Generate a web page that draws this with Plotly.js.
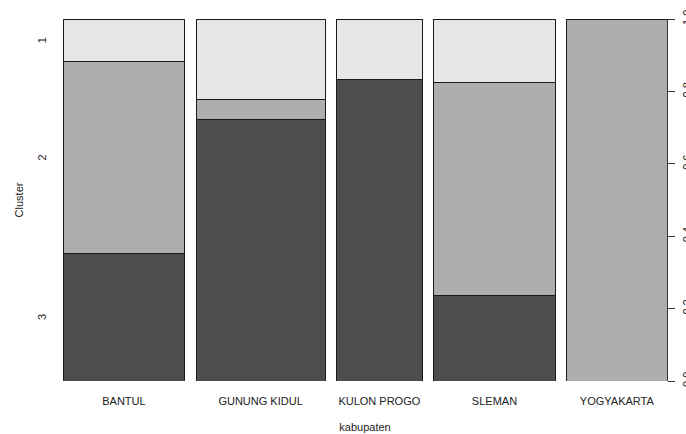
<!DOCTYPE html>
<html>
<head>
<meta charset="utf-8">
<script src="https://cdn.plot.ly/plotly-3.0.1.min.js"></script>
<style>html,body{margin:0;padding:0;background:#fff;}#chart{width:686px;height:434px;}</style>
</head>
<body>
<div id="chart"></div>
<script>
// Data: counts per kabupaten and cluster
var categories = ["BANTUL", "GUNUNG KIDUL", "KULON PROGO", "SLEMAN", "YOGYAKARTA"];
var cluster1 = [2, 4, 2, 3, 0];
var cluster2 = [9, 1, 0, 10, 14];
var cluster3 = [6, 13, 10, 4, 0];
var clusterLabels = ["1", "2", "3"];
var rightTicks = [0, 0.2, 0.4, 0.6, 0.8, 1.0];
var rightTickText = ["0.0", "0.2", "0.4", "0.6", "0.8", "1.0"];

var off = 0.02;
var totals = categories.map(function(c, i){ return cluster1[i] + cluster2[i] + cluster3[i]; });
var N = totals.reduce(function(a, b){ return a + b; }, 0);
var widths = totals.map(function(t){ return t / N; });
var centers = [];
var acc = 0;
widths.forEach(function(w, i){ centers.push(acc + w / 2); acc += w + off; });
var xmax = acc - off;

function prop(arr){ return arr.map(function(v, i){ return v / totals[i]; }); }

var colors = {"1": "#e6e6e6", "2": "#aeaeae", "3": "#4d4d4d"};
var series = [["3", cluster3], ["2", cluster2], ["1", cluster1]];
var traces = series.map(function(s){
  return {
    type: "bar", x: centers, y: prop(s[1]), width: widths, name: s[0],
    marker: {color: colors[s[0]], line: {color: "#1a1a1a", width: 1}},
    hoverinfo: "skip", showlegend: false
  };
});
// invisible trace for right axis
traces.push({type: "scatter", x: [0], y: [0], yaxis: "y2", mode: "markers", marker: {opacity: 0}, hoverinfo: "skip", showlegend: false});

// left labels at midpoints of first column
var p3 = cluster3[0] / totals[0], p2 = cluster2[0] / totals[0];
var mids = {"3": p3 / 2, "2": p3 + p2 / 2, "1": p3 + p2 + (1 - p3 - p2) / 2};
var annotations = clusterLabels.map(function(l){
  return {xref: "paper", yref: "y", x: 0, y: mids[l], text: l, showarrow: false,
    textangle: -90, xanchor: "center", yanchor: "middle", xshift: -21,
    font: {family: "Liberation Sans, Arial, sans-serif", size: 11, color: "#222"}};
});

var layout = {
  width: 686, height: 434,
  margin: {l: 63, r: 19, t: 19, b: 53},
  paper_bgcolor: "#fff", plot_bgcolor: "#fff",
  barmode: "stack", bargap: 0,
  font: {family: "Liberation Sans, Arial, sans-serif", size: 11, color: "#222"},
  xaxis: {
    range: [0, xmax], tickvals: centers, ticktext: categories, ticks: "",
    showgrid: false, zeroline: false, showline: false, fixedrange: true,
    ticklabelstandoff: 12,
    tickfont: {size: 11, color: "#222"},
    title: {text: "kabupaten", standoff: 17, font: {size: 11, color: "#222"}}
  },
  yaxis: {
    range: [0, 1], showticklabels: false, ticks: "", showgrid: false,
    zeroline: false, showline: false, fixedrange: true,
    title: {text: "Cluster", standoff: 36, font: {size: 11, color: "#222"}}
  },
  yaxis2: {
    overlaying: "y", side: "right", range: [0, 1], tickvals: rightTicks, ticktext: rightTickText,
    ticks: "outside", ticklen: 7, tickcolor: "#333", showline: true, linecolor: "#333", linewidth: 1,
    showgrid: false, zeroline: false, tickangle: -90, fixedrange: true,
    ticklabelstandoff: 3,
    tickfont: {size: 11, color: "#222"}
  },
  annotations: annotations
};

Plotly.newPlot("chart", traces, layout, {displayModeBar: false, staticPlot: true});
</script>
</body>
</html>
